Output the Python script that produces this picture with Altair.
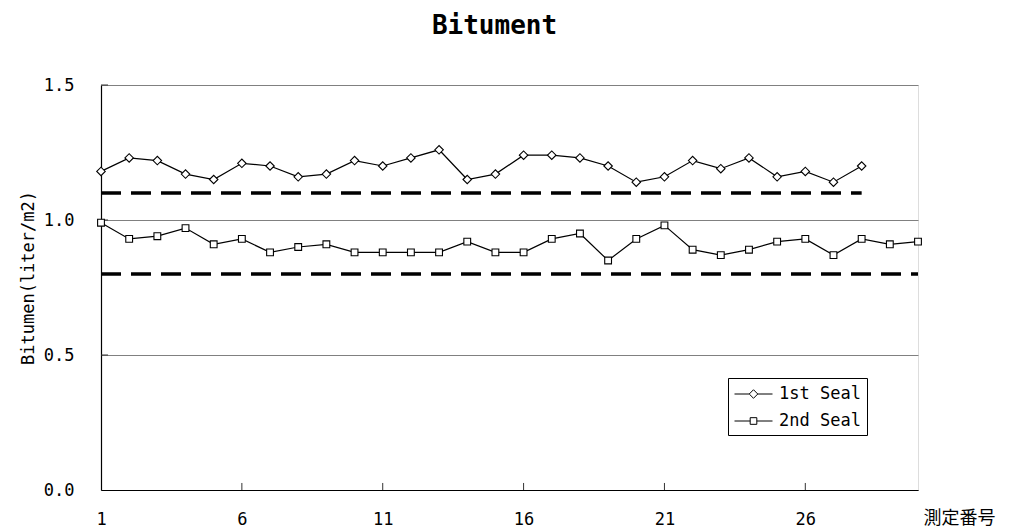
import altair as alt
import pandas as pd

# ---- data ----
seal1_no = list(range(1, 29))
seal1_val = [1.18, 1.23, 1.22, 1.17, 1.15, 1.21, 1.20, 1.16, 1.17, 1.22,
             1.20, 1.23, 1.26, 1.15, 1.17, 1.24, 1.24, 1.23, 1.20, 1.14,
             1.16, 1.22, 1.19, 1.23, 1.16, 1.18, 1.14, 1.20]
seal2_no = list(range(1, 31))
seal2_val = [0.99, 0.93, 0.94, 0.97, 0.91, 0.93, 0.88, 0.90, 0.91, 0.88,
             0.88, 0.88, 0.88, 0.92, 0.88, 0.88, 0.93, 0.95, 0.85, 0.93,
             0.98, 0.89, 0.87, 0.89, 0.92, 0.93, 0.87, 0.93, 0.91, 0.92]
series_names = ["1st Seal", "2nd Seal"]

spec_value = [1.1, 0.8]
spec_from = [1, 1]
spec_to = [28, 30]

x_tick_values = [1, 6, 11, 16, 21, 26]
x_inner_ticks = [6, 11, 16, 21, 26]
y_tick_values = [0.0, 0.5, 1.0, 1.5]
y_inner_ticks = [0.5, 1.0, 1.5]

FONT = "DejaVu Sans Mono"
W, H = 817, 405

df = pd.concat([
    pd.DataFrame({"no": seal1_no, "val": seal1_val, "series": series_names[0]}),
    pd.DataFrame({"no": seal2_no, "val": seal2_val, "series": series_names[1]}),
])
spec_df = pd.DataFrame({"v": spec_value, "x1": spec_from, "x2": spec_to})
xt_df = pd.DataFrame({"xt": x_inner_ticks, "y0": 0.0, "y1": 0.026})
yt_df = pd.DataFrame({"yt": y_inner_ticks, "x0": 1.0, "x1": 1.25})

xscale = alt.Scale(domain=[1, 30], nice=False, zero=False)
yscale = alt.Scale(domain=[0, 1.5], nice=False)

x_axis = alt.Axis(values=x_tick_values, format="d", grid=False, ticks=False, tickSize=0,
                  domainColor="black", domainWidth=1.2,
                  labelFont=FONT, labelFontSize=17, labelColor="black",
                  labelPadding=29, labelBaseline="middle", labelFlush=False,
                  title="測定番号", titleFont="Noto Sans CJK JP", titleFontSize=18,
                  titleFontWeight="normal", titleColor="black",
                  titleAlign="left", titleBaseline="middle", titleX=W + 5, titleY=28)
y_axis = alt.Axis(values=y_tick_values, format=".1f", grid=True, gridColor="#808080",
                  gridWidth=1, ticks=False, tickSize=0,
                  domainColor="black", domainWidth=1.2,
                  labelFont=FONT, labelFontSize=17, labelColor="black",
                  labelPadding=27,
                  title="Bitumen(liter/m2)", titleFont=FONT, titleFontSize=17,
                  titleFontWeight="normal", titleColor="black",
                  titleBaseline="middle", titleX=-73, titleY=H / 2 - 10)

base = alt.Chart(df)

lines = base.mark_line(color="black", strokeWidth=1.2).encode(
    x=alt.X("no:Q", scale=xscale, axis=x_axis),
    y=alt.Y("val:Q", scale=yscale, axis=y_axis),
    detail="series:N",
)

points = base.mark_point(filled=False, color="black", fill="white", fillOpacity=1,
                         strokeWidth=1.1, opacity=1).encode(
    x="no:Q",
    y="val:Q",
    shape=alt.Shape("series:N", scale=alt.Scale(domain=series_names,
                                                range=["diamond", "square"]),
                    legend=None),
    size=alt.Size("series:O", scale=alt.Scale(domain=series_names, range=[72, 46]),
                  legend=None),
)

# legend symbol: a short line with the marker in its middle
leg_paths = [
    "M-1,0H0.55M1.45,0H3M0.55,0L1,-0.45L1.45,0L1,0.45Z",
    "M-1,0H0.65M1.35,0H3M0.65,-0.35H1.35V0.35H0.65Z",
]
legend_layer = base.mark_point(opacity=0).encode(
    x="no:Q",
    y="val:Q",
    shape=alt.Shape("series:N",
                    scale=alt.Scale(domain=series_names, range=leg_paths),
                    legend=alt.Legend(title=None, orient="none", legendX=627, legendY=293,
                                      strokeColor="black", fillColor="white", padding=6,
                                      symbolSize=361, symbolOpacity=1,
                                      symbolStrokeColor="black", symbolFillColor="white",
                                      symbolStrokeWidth=1, labelFont=FONT,
                                      labelFontSize=17, labelColor="black",
                                      labelOffset=25, rowPadding=9,
                                      cornerRadius=0)),
)

spec_lines = alt.Chart(spec_df).mark_rule(color="black", strokeWidth=3.5,
                                          strokeDash=[20, 10]).encode(
    x="x1:Q", x2="x2:Q", y="v:Q")

x_ticks = alt.Chart(xt_df).mark_rule(color="#333333", strokeWidth=1).encode(
    x="xt:Q", y="y0:Q", y2="y1:Q")
y_ticks = alt.Chart(yt_df).mark_rule(color="#333333", strokeWidth=1).encode(
    y="yt:Q", x="x0:Q", x2="x1:Q")

chart = alt.layer(lines, spec_lines, x_ticks, y_ticks, points, legend_layer).resolve_scale(
    shape="independent", size="independent"
).properties(
    width=W, height=H,
    title=alt.TitleParams("Bitument", font=FONT, fontSize=26, fontWeight="bold",
                          color="black", anchor="middle", dx=-15, offset=37),
    autosize=alt.AutoSizeParams(type="none"),
    padding={"left": 101, "top": 85, "right": 92, "bottom": 40},
).configure_view(stroke="#999999", strokeWidth=1.2).configure(background="white")

chart.save("out.html", embed_options={"renderer": "svg", "actions": False})
